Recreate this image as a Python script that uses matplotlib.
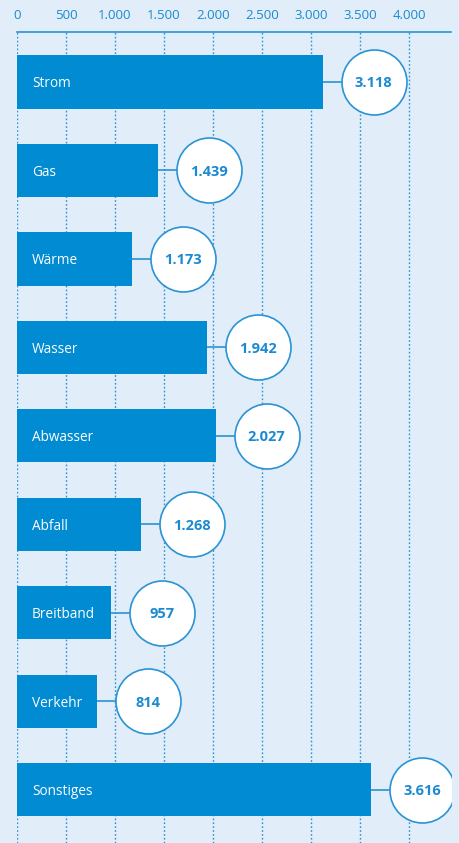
import matplotlib
matplotlib.use("Agg")
import matplotlib.pyplot as plt

categories = ["Strom", "Gas", "Wärme", "Wasser", "Abwasser", "Abfall", "Breitband", "Verkehr", "Sonstiges"]
values = [3118, 1439, 1173, 1942, 2027, 1268, 957, 814, 3616]
value_labels = ["3.118", "1.439", "1.173", "1.942", "2.027", "1.268", "957", "814", "3.616"]
ticks = [0, 500, 1000, 1500, 2000, 2500, 3000, 3500, 4000]
tick_labels = ["0", "500", "1.000", "1.500", "2.000", "2.500", "3.000", "3.500", "4.000"]

BG = "#e1edf8"
BAR = "#008bd2"
LINE = "#2a93d5"
TXT = "#1b8ad0"

plt.rcParams['font.family'] = ['Open Sans', 'DejaVu Sans']

W, H = 460, 843
fig = plt.figure(figsize=(W / 100, H / 100), dpi=100, facecolor=BG)
left_px, right_px, top_px = 17, 451, 32
ax = fig.add_axes([left_px / W, 0, (right_px - left_px) / W, 1 - top_px / H])
ax.set_facecolor(BG)

px_per_unit = (409 - 17) / 4000
ax.set_xlim(0, (right_px - left_px) / px_per_unit)
ax.set_ylim(8.6, -0.565)

y = list(range(len(categories)))
ax.barh(y, values, height=0.6, color=BAR, zorder=3)

for xt in ticks:
    ax.axvline(xt, color=LINE, lw=1.0, ls=(0, (1.2, 1.6)), zorder=1)

off = 51 / px_per_unit
cx = [v + off for v in values]
for yi, v, c in zip(y, values, cx):
    ax.plot([v, c], [yi, yi], color=LINE, lw=1.2, zorder=2)
ax.scatter(cx, y, s=(2 * 32.5 * 0.72) ** 2, facecolor="white", edgecolor=LINE, linewidth=1.2, zorder=4)

for yi, name, c, lab in zip(y, categories, cx, value_labels):
    ax.text(153, yi, name, color="white", fontsize=9.8, va="center_baseline", ha="left", zorder=5)
    ax.text(c, yi, lab, color=TXT, fontsize=10.5, fontweight="bold", va="center_baseline", ha="center", zorder=5)

ax.xaxis.tick_top()
ax.set_xticks(ticks)
ax.set_xticklabels(tick_labels, color=TXT, fontsize=9.5)
ax.tick_params(axis="x", length=0, pad=7)
ax.set_yticks([])
for s in ["left", "right", "bottom"]:
    ax.spines[s].set_visible(False)
ax.spines["top"].set_color(LINE)
ax.spines["top"].set_linewidth(1.2)

fig.savefig("out.png", dpi=100, facecolor=BG)
